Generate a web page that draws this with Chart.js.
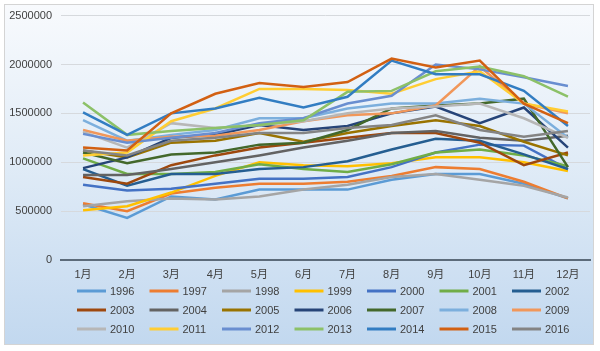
<!DOCTYPE html>
<html>

<head>
    <meta charset="utf-8">
    <title>1996-2016 月度数据</title>
    <script src="https://cdn.jsdelivr.net/npm/chart.js"></script>
    <style>
        body {
            margin: 0;
            background: #ffffff;
        }

        .wrap {
            position: relative;
            width: 600px;
            height: 351px;
        }

        .frame {
            position: absolute;
            left: 4px;
            top: 4px;
            width: 588px;
            height: 339px;
            border: 1px solid #d4d4d4;
            background: linear-gradient(to bottom, #f8fafd 0%, #e1ecf7 45%, #c2d8ef 100%);
        }

        canvas {
            position: absolute;
            left: 0;
            top: 0;
        }
    </style>
</head>

<body>
    <div class="wrap">
        <div class="frame"></div>
        <canvas id="chart" width="600" height="351"></canvas>
    </div>

    <script>
        const months = ['1月', '2月', '3月', '4月', '5月', '6月', '7月', '8月', '9月', '10月', '11月', '12月'];
        const yTicks = [0, 500000, 1000000, 1500000, 2000000, 2500000];

        const years = ['1996', '1997', '1998', '1999', '2000', '2001', '2002',
            '2003', '2004', '2005', '2006', '2007', '2008', '2009',
            '2010', '2011', '2012', '2013', '2014', '2015', '2016'];

        const colors = ['#5B9BD5', '#ED7D31', '#A5A5A5', '#FFC000', '#4472C4', '#70AD47', '#255E91',
            '#9E480E', '#636363', '#997300', '#264478', '#43682B', '#7CAFDD', '#F1975A',
            '#B7B7B7', '#FFCD33', '#698ED0', '#8CC168', '#327DC2', '#D26012', '#848484'];

        // one array per year
        const y1996 = [570000, 430000, 650000, 620000, 720000, 720000, 720000, 820000, 880000, 880000, 780000, 630000];
        const y1997 = [580000, 500000, 680000, 740000, 780000, 780000, 800000, 860000, 950000, 930000, 800000, 630000];
        const y1998 = [550000, 600000, 630000, 620000, 650000, 720000, 770000, 850000, 880000, 820000, 760000, 640000];
        const y1999 = [510000, 550000, 690000, 860000, 1000000, 970000, 960000, 990000, 1050000, 1050000, 1000000, 910000];
        const y2000 = [770000, 710000, 730000, 780000, 830000, 830000, 850000, 950000, 1100000, 1180000, 1170000, 930000];
        const y2001 = [1040000, 880000, 880000, 900000, 980000, 930000, 900000, 980000, 1100000, 1130000, 1070000, 960000];
        const y2002 = [930000, 760000, 880000, 880000, 930000, 950000, 1010000, 1130000, 1240000, 1220000, 1080000, 930000];
        const y2003 = [850000, 780000, 970000, 1070000, 1150000, 1200000, 1250000, 1300000, 1300000, 1200000, 970000, 1100000];
        const y2004 = [870000, 870000, 930000, 1000000, 1070000, 1150000, 1220000, 1300000, 1320000, 1250000, 1220000, 1270000];
        const y2005 = [1120000, 1050000, 1200000, 1220000, 1300000, 1210000, 1300000, 1370000, 1430000, 1370000, 1210000, 1070000];
        const y2006 = [940000, 1050000, 1250000, 1280000, 1380000, 1330000, 1370000, 1500000, 1570000, 1400000, 1560000, 1150000];
        const y2007 = [1100000, 990000, 1080000, 1100000, 1180000, 1200000, 1330000, 1550000, 1580000, 1600000, 1650000, 950000];
        const y2008 = [1430000, 1220000, 1280000, 1330000, 1450000, 1450000, 1550000, 1600000, 1600000, 1650000, 1600000, 1250000];
        const y2009 = [1330000, 1220000, 1260000, 1270000, 1330000, 1420000, 1480000, 1500000, 1580000, 1980000, 1600000, 1500000];
        const y2010 = [1310000, 1150000, 1400000, 1350000, 1380000, 1420000, 1500000, 1550000, 1570000, 1600000, 1450000, 1250000];
        const y2011 = [1070000, 1100000, 1420000, 1550000, 1750000, 1750000, 1740000, 1700000, 1850000, 1930000, 1600000, 1520000];
        const y2012 = [1290000, 1200000, 1250000, 1300000, 1400000, 1450000, 1600000, 1680000, 2000000, 1950000, 1870000, 1780000];
        const y2013 = [1610000, 1280000, 1320000, 1350000, 1380000, 1430000, 1720000, 1730000, 1930000, 1980000, 1880000, 1670000];
        const y2014 = [1510000, 1280000, 1500000, 1550000, 1660000, 1560000, 1670000, 2040000, 1900000, 1900000, 1730000, 1370000];
        const y2015 = [1150000, 1120000, 1500000, 1700000, 1810000, 1770000, 1820000, 2060000, 1970000, 2040000, 1600000, 1400000];
        const y2016 = [1120000, 1070000, 1220000, 1250000, 1300000, 1300000, 1350000, 1380000, 1480000, 1330000, 1260000, 1320000];

        const series = [y1996, y1997, y1998, y1999, y2000, y2001, y2002,
            y2003, y2004, y2005, y2006, y2007, y2008, y2009,
            y2010, y2011, y2012, y2013, y2014, y2015, y2016];

        const font = '"Liberation Sans", "Noto Sans CJK SC", sans-serif';

        // legend in 7 columns x 3 rows under the axis
        const gridLegend = {
            id: 'gridLegend',
            afterDraw(chart) {
                const c = chart.ctx;
                c.save();
                c.font = '11px ' + font;
                c.textBaseline = 'middle';
                c.fillStyle = '#404040';
                chart.data.datasets.forEach((ds, i) => {
                    const x = 77 + (i % 7) * 72.5;
                    const y = 291 + Math.floor(i / 7) * 19;
                    c.strokeStyle = ds.borderColor;
                    c.lineWidth = 3;
                    c.beginPath();
                    c.moveTo(x, y);
                    c.lineTo(x + 29, y);
                    c.stroke();
                    c.fillText(ds.label, x + 33, y + 1);
                });
                c.restore();
            }
        };

        const datasets = series.map((values, i) => ({
            label: years[i],
            data: values,
            borderColor: colors[i],
            backgroundColor: colors[i],
            borderWidth: 2.5,
            pointRadius: 0,
            tension: 0,
            order: series.length - i
        }));

        new Chart(document.getElementById('chart'), {
            type: 'line',
            data: { labels: months, datasets: datasets },
            options: {
                responsive: false,
                animation: false,
                layout: { padding: { left: 4, right: 10, top: 13, bottom: 67 } },
                plugins: {
                    legend: { display: false },
                    tooltip: { enabled: false }
                },
                scales: {
                    x: {
                        offset: true,
                        grid: { display: false },
                        border: { display: true, color: '#5c6b7a', width: 2 },
                        ticks: { color: '#404040', font: { size: 11, family: font }, padding: 0, maxRotation: 0 },
                        afterFit: s => { s.height = 24; }
                    },
                    y: {
                        min: 0,
                        max: 2500000,
                        afterBuildTicks: s => { s.ticks = yTicks.map(v => ({ value: v })); },
                        grid: { color: '#d6d9dd', lineWidth: 1, drawTicks: false },
                        border: { display: false },
                        ticks: { color: '#404040', font: { size: 11, family: font }, padding: 9, callback: v => String(v) },
                        afterFit: s => { s.width = 57; }
                    }
                }
            },
            plugins: [gridLegend]
        });
    </script>
</body>

</html>
